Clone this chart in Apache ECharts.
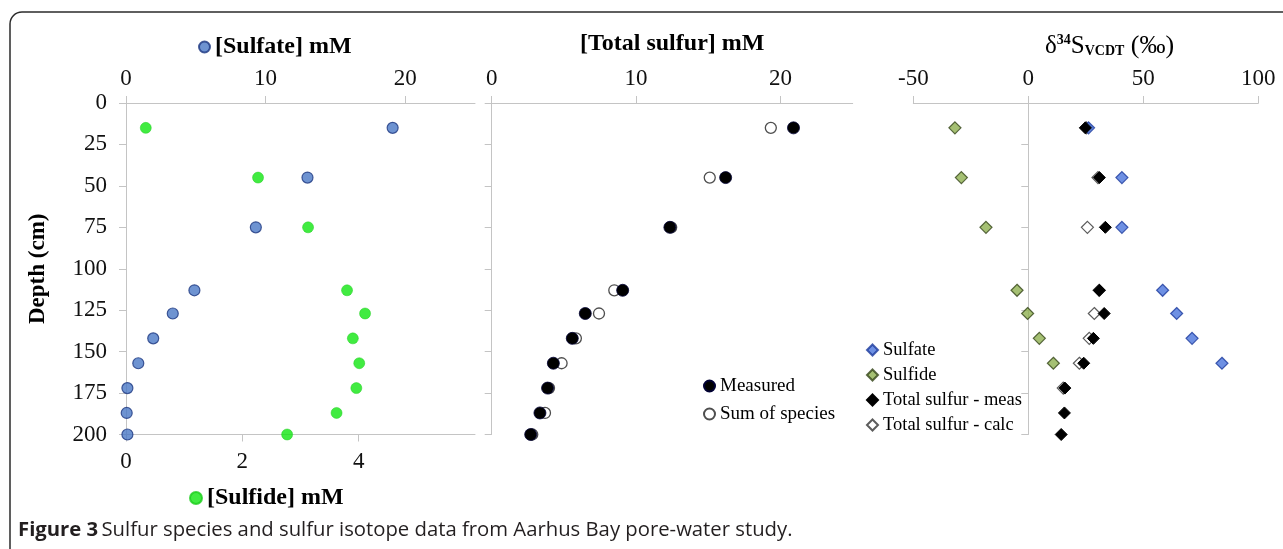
<!DOCTYPE html>
<html>
<head>
<meta charset="utf-8">
<script src="https://cdn.jsdelivr.net/npm/echarts@6/dist/echarts.min.js"></script>
<style>
html,body{margin:0;padding:0;background:#fff;}
#chart{width:1283px;height:549px;}
</style>
</head>
<body>
<div id="chart"></div>
<script>
// ---- data ----
var depth = [15, 45, 75, 113, 127, 142, 157, 172, 187, 200];
var sulfate = [19.1, 13.0, 9.3, 4.9, 3.35, 1.95, 0.88, 0.1, 0.05, 0.1];
var sulfide = [0.34, 2.27, 3.13, 3.80, 4.11, 3.90, 4.01, 3.96, 3.62, 2.77];
var totalMeasured = [20.9, 16.2, 12.34, 9.07, 6.48, 5.58, 4.27, 3.87, 3.34, 2.70];
var totalSum = [19.33, 15.1, 12.43, 8.49, 7.43, 5.83, 4.84, 3.97, 3.69, 2.81];
var d34Sulfate = [26.2, 40.7, 40.7, 58.4, 64.5, 71.2, 84.2, null, null, null];
var d34Sulfide = [-31.9, -29.1, -18.4, -4.9, -0.3, 4.8, 10.9, null, null, null];
var d34TotalMeas = [24.8, 30.9, 33.5, 30.9, 33.0, 28.3, 24.1, 15.9, 15.7, 14.3];
var d34TotalCalc = [25.2, 30.3, 25.7, 30.8, 28.7, 26.5, 22.2, 15.2, null, null];

var depthTicks = [0, 25, 50, 75, 100, 125, 150, 175, 200];
var sulfateTicks = [0, 10, 20];
var sulfideTicks = [0, 2, 4];
var totalTicks = [0, 10, 20];
var isoTicks = [-50, 0, 50, 100];

function pairs(xs) {
  var out = [];
  for (var i = 0; i < xs.length; i++) {
    if (xs[i] !== null) out.push([xs[i], depth[i]]);
  }
  return out;
}

var SERIF = '"Liberation Serif", "Times New Roman", serif';
var AXC = '#c4c4c4';

function xAx(gridIndex, pos, min, max, ticks, margin) {
  return {
    type: 'value', gridIndex: gridIndex, position: pos, min: min, max: max,
    splitLine: {show: false},
    axisLine: {show: true, onZero: false, lineStyle: {color: AXC, width: 1}},
    axisTick: {show: true, length: 7, customValues: ticks, lineStyle: {color: AXC}},
    axisLabel: {customValues: ticks, fontFamily: SERIF, fontSize: 23, color: '#111', margin: margin}
  };
}
function yAx(gridIndex, showLabels) {
  return {
    type: 'value', gridIndex: gridIndex, inverse: true, min: 0, max: 200, interval: 25,
    splitLine: {show: false},
    axisLine: {show: true, onZero: true, lineStyle: {color: AXC, width: 1}},
    axisTick: {show: true, length: 7, lineStyle: {color: AXC}},
    axisLabel: {show: showLabels, customValues: depthTicks, fontFamily: SERIF, fontSize: 23, color: '#111', margin: 19}
  };
}

var chart = echarts.init(document.getElementById('chart'), null, {renderer: 'canvas'});

var yAxes = [yAx(0, true), yAx(1, false), yAx(2, false)];
yAxes[0].name = 'Depth (cm)';
yAxes[0].nameLocation = 'middle';
yAxes[0].nameGap = 76;
yAxes[0].nameTextStyle = {fontFamily: SERIF, fontSize: 23, fontWeight: 'bold', color: '#000'};

var xAxes = [
  xAx(0, 'top', 0, 25, sulfateTicks, 13),
  xAx(0, 'bottom', 0, 6, sulfideTicks, 16),
  xAx(1, 'top', 0, 25, totalTicks, 13),
  xAx(2, 'top', -50, 100, isoTicks, 13)
];
xAxes[2].name = '[Total sulfur] mM';
xAxes[2].nameLocation = 'middle';
xAxes[2].nameGap = 47;
xAxes[2].nameTextStyle = {fontFamily: SERIF, fontSize: 24, fontWeight: 'bold', color: '#000'};

var option = {
  backgroundColor: '#fff',
  animation: false,
  title: {
    text: '{a|δ}{b|34}{a|S}{c|VCDT}{d| (‰)}',
    left: 1040, top: 26,
    textStyle: {
      fontWeight: 'normal',
      rich: {
        a: {fontFamily: SERIF, fontSize: 25, fontWeight: 'normal', color: '#000', lineHeight: 30, verticalAlign: 'middle'},
        b: {fontFamily: SERIF, fontSize: 14, fontWeight: 'bold', color: '#000', padding: [0, 0, 11, 0], verticalAlign: 'middle'},
        c: {fontFamily: SERIF, fontSize: 14, fontWeight: 'bold', color: '#000', padding: [10, 0, 0, 0], verticalAlign: 'middle'},
        d: {fontFamily: SERIF, fontSize: 26, fontWeight: 'normal', color: '#000', verticalAlign: 'middle'}
      }
    }
  },
  grid: [
    {left: 126, top: 103, width: 349, height: 331.5},
    {left: 491.7, top: 103, width: 361, height: 331.5},
    {left: 913.3, top: 103, width: 345, height: 331.5}
  ],
  xAxis: xAxes,
  yAxis: yAxes,
  legend: [
    {data: ['[Sulfate] mM'], left: 193, top: 30, icon: 'circle', itemWidth: 11, itemHeight: 11,
     selectedMode: false, textStyle: {fontFamily: SERIF, fontSize: 24, fontWeight: 'bold', color: '#000'}},
    {data: ['[Sulfide] mM'], left: 184, top: 481, icon: 'circle', itemWidth: 12, itemHeight: 12,
     selectedMode: false, textStyle: {fontFamily: SERIF, fontSize: 24, fontWeight: 'bold', color: '#000'}},
    {data: ['Measured', 'Sum of species'], orient: 'vertical', left: 698, top: 371, icon: 'circle',
     itemWidth: 11, itemHeight: 11, itemGap: 8, selectedMode: false,
     textStyle: {fontFamily: SERIF, fontSize: 19, color: '#000', lineHeight: 20}},
    {data: ['Sulfate', 'Sulfide', 'Total sulfur - meas', 'Total sulfur - calc'], orient: 'vertical',
     left: 861, top: 335, icon: 'diamond', itemWidth: 11, itemHeight: 11, itemGap: 5, selectedMode: false,
     textStyle: {fontFamily: SERIF, fontSize: 18.5, color: '#000', lineHeight: 20}}
  ],
  series: [
    {name: '[Sulfate] mM', type: 'scatter', xAxisIndex: 0, yAxisIndex: 0, symbol: 'circle', symbolSize: 11,
     itemStyle: {color: '#4a78c6', borderColor: '#1c3680', borderWidth: 1.2}, data: pairs(sulfate)},
    {name: '[Sulfide] mM', type: 'scatter', xAxisIndex: 1, yAxisIndex: 0, symbol: 'circle', symbolSize: 11,
     itemStyle: {color: '#12e612', borderColor: '#1ccc1c', borderWidth: 0.6}, data: pairs(sulfide)},
    {name: 'Sum of species', type: 'scatter', xAxisIndex: 2, yAxisIndex: 1, symbol: 'circle', symbolSize: 11,
     itemStyle: {color: '#ffffff', borderColor: '#222', borderWidth: 1.3}, data: pairs(totalSum)},
    {name: 'Measured', type: 'scatter', xAxisIndex: 2, yAxisIndex: 1, symbol: 'circle', symbolSize: 12,
     itemStyle: {color: '#000000', borderColor: '#000033', borderWidth: 0.8, opacity: 1}, data: pairs(totalMeasured)},
    {name: 'Total sulfur - calc', type: 'scatter', xAxisIndex: 3, yAxisIndex: 2, symbol: 'diamond', symbolSize: 12,
     itemStyle: {color: '#ffffff', borderColor: '#333', borderWidth: 1.2}, data: pairs(d34TotalCalc)},
    {name: 'Sulfate', type: 'scatter', xAxisIndex: 3, yAxisIndex: 2, symbol: 'diamond', symbolSize: 12,
     itemStyle: {color: '#4a74dc', borderColor: '#1c3a9c', borderWidth: 1.2}, data: pairs(d34Sulfate)},
    {name: 'Sulfide', type: 'scatter', xAxisIndex: 3, yAxisIndex: 2, symbol: 'diamond', symbolSize: 12,
     itemStyle: {color: '#8eb050', borderColor: '#334418', borderWidth: 1.2}, data: pairs(d34Sulfide)},
    {name: 'Total sulfur - meas', type: 'scatter', xAxisIndex: 3, yAxisIndex: 2, symbol: 'diamond', symbolSize: 12,
     itemStyle: {color: '#000000', borderColor: '#000', borderWidth: 1, opacity: 1}, data: pairs(d34TotalMeas)}
  ],
  graphic: [
    {type: 'rect', z: -10, shape: {x: 10, y: 12, width: 1300, height: 600, r: 12},
     style: {fill: 'none', stroke: '#2b2b2b', lineWidth: 1.5}},
    {type: 'text', left: 18, top: 520,
     style: {
       text: '{b|Figure 3} {r|Sulfur species and sulfur isotope data from Aarhus Bay pore-water study.}',
       rich: {
         b: {fontFamily: '"Open Sans", "Noto Sans", sans-serif', fontSize: 20.3, fontWeight: 'bold', fill: '#231f20'},
         r: {fontFamily: '"Open Sans", "Noto Sans", sans-serif', fontSize: 20.3, fill: '#231f20'}
       }
     }}
  ]
};
chart.setOption(option);
</script>
</body>
</html>
